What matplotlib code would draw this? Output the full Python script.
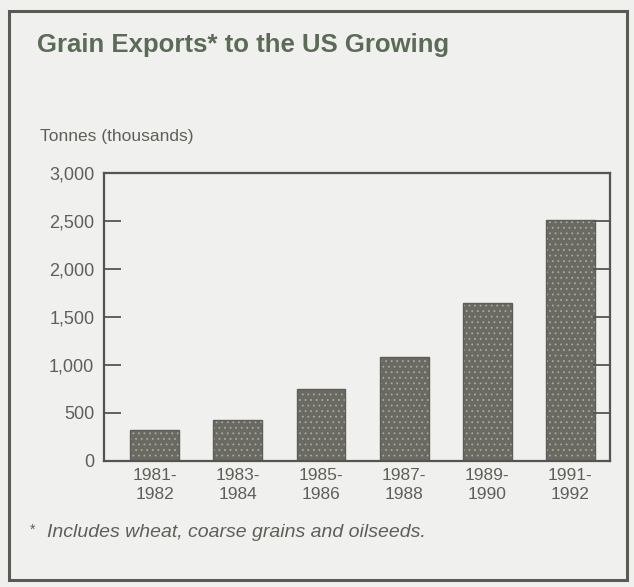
import matplotlib.pyplot as plt
from matplotlib.patches import Rectangle

periods = ["1981-\n1982", "1983-\n1984", "1985-\n1986", "1987-\n1988", "1989-\n1990", "1991-\n1992"]
exports = [320, 430, 750, 1080, 1650, 2510]
yticks = [0, 500, 1000, 1500, 2000, 2500, 3000]
ylabels = ["0", "500", "1,000", "1,500", "2,000", "2,500", "3,000"]

plt.rcParams['font.family'] = ['Liberation Sans', 'DejaVu Sans']
plt.rcParams['hatch.color'] = '#a9a9a2'
plt.rcParams['hatch.linewidth'] = 0.6

bg = '#f0f0ee'
txt = '#5f5f5a'

fig = plt.figure(figsize=(6.34, 5.87), dpi=100)
fig.patch.set_facecolor(bg)
fig.patches.append(Rectangle((0.014, 0.012), 0.975, 0.97, transform=fig.transFigure,
                             fill=False, edgecolor='#5a5a55', linewidth=2.2))

ax = fig.add_axes([0.164, 0.2147, 0.798, 0.4906])
ax.set_facecolor(bg)
x = list(range(len(periods)))
ax.bar(x, exports, width=0.59, color='#6a6a63', edgecolor='#a9a9a2', linewidth=0, hatch='...')
# contorno de las barras
ax.bar(x, exports, width=0.59, fill=False, edgecolor='#5e5e58', linewidth=1.0)

ax.set_xlim(-0.614, 5.48)
ax.set_ylim(0, 3000)
ax.set_yticks(yticks)
ax.set_yticklabels(ylabels)
ax.set_xticks(x)
ax.set_xticklabels(periods, linespacing=1.35)
for s in ax.spines.values():
    s.set_color('#555550')
    s.set_linewidth(1.6)
ax.tick_params(axis='y', direction='in', length=12, width=1.3, color='#555550',
               right=True, labelsize=13, labelcolor=txt, pad=7)
ax.tick_params(axis='x', length=0, labelsize=12.5, labelcolor=txt, pad=5)

fig.text(0.058, 0.923, "Grain Exports* to the US Growing", fontsize=18.5,
         fontweight='bold', color='#5c6b58', ha='left', va='center')
fig.text(0.063, 0.768, "Tonnes (thousands)", fontsize=12.5, color=txt, ha='left', va='center')
fig.text(0.047, 0.097, "*", fontsize=10, color=txt, ha='left', va='center')
fig.text(0.074, 0.092, "Includes wheat, coarse grains and oilseeds.", fontsize=14,
         style='italic', color=txt, ha='left', va='center')

fig.savefig("out.png", dpi=100, facecolor=bg)
